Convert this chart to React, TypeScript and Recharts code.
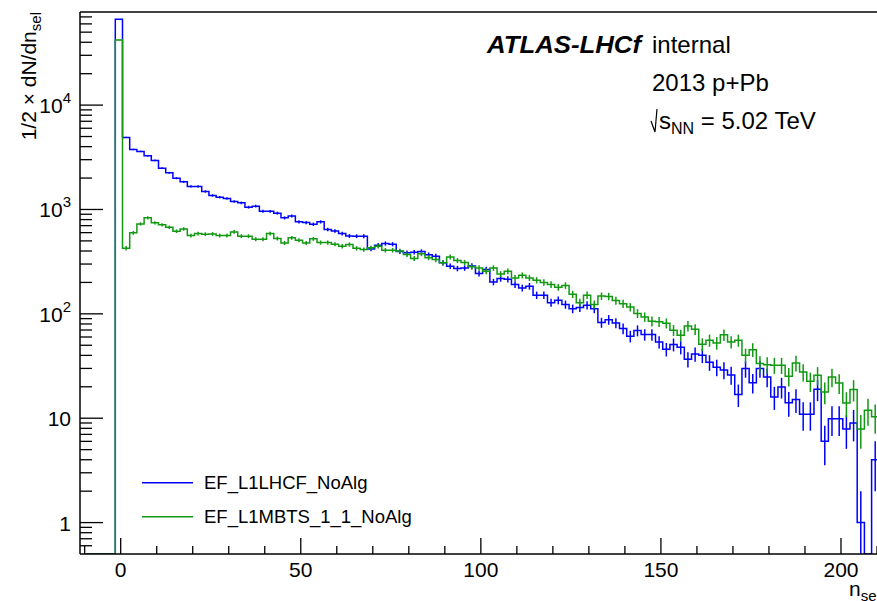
import React from 'react';
import { ComposedChart, Line, Scatter, ErrorBar, XAxis, YAxis, ReferenceLine } from 'recharts';

// bins of width 2, first low edge at -9.5 (last high edge 210.5)
const binWidth = 2;
const firstEdge = -9.5;

const lhcfName = 'EF_L1LHCF_NoAlg';
const lhcfCounts = [
  0, 0, 0, 0, 66400,
  4900, 3760, 3600, 3265, 2950, 2490, 2244, 1995, 1840, 1662,
  1662, 1488, 1362, 1312, 1275, 1193, 1157, 1052, 1076, 963,
  960, 922, 831, 868, 761, 750, 722, 761, 643, 623,
  589, 558, 555, 555, 419, 455, 472, 465, 395, 384,
  390, 395, 368, 357, 308, 286, 272, 275, 288, 243,
  266, 202, 218, 214, 191, 177, 184, 151, 151, 128,
  135, 123, 112, 115, 121, 112, 82.6, 88, 81.8, 72.3,
  61, 69.2, 63.3, 63.3, 53.8, 45.8, 50.8, 47.8, 36.7, 41.2,
  40.1, 34.3, 30.8, 29, 26, 16.9, 29.9, 21.9, 29.9, 24.8,
  16.0, 19.9, 14.1, 15.1, 10.9, 10.9, 18.9, 6.0, 9.9, 9.9,
  7.9, 9.0, 1.0, 0, 4.0,
];

const mbtsName = 'EF_L1MBTS_1_1_NoAlg';
const mbtsCounts = [
  0, 0, 0, 0, 42000,
  425, 597, 727, 831, 745, 712, 676, 619, 651, 563,
  589, 580, 583, 563, 563, 610, 555, 555, 519, 519,
  589, 527, 478, 535, 508, 478, 523, 482, 482, 465,
  445, 462, 425, 413, 429, 445, 407, 407, 400, 370,
  339, 376, 345, 331, 308, 351, 324, 310, 282, 275,
  256, 275, 241, 256, 221, 234, 221, 210, 200, 191,
  180, 187, 154, 128, 151, 123, 148, 147, 134, 125,
  116, 101, 93.5, 85, 84, 81.3, 69.7, 62.4, 76.5, 71.1,
  51.1, 55.8, 52.6, 63, 53.8, 55.8, 40.1, 45.4, 33.4, 32.6,
  32.2, 32.2, 25.2, 33.8, 27.7, 22.6, 25.8, 17.8, 24.8, 21.7,
  14.0, 18.8, 7.9, 11.9, 10.3,
];

const xMajorTicks = [0, 50, 100, 150, 200];
const xTicks = [-10, 0, 10, 20, 30, 40, 50, 60, 70, 80, 90, 100, 110, 120, 130, 140, 150, 160, 170, 180, 190, 200, 210];
const yDecades = [0.1, 1, 10, 100, 1000, 10000];

const X_DOMAIN: [number, number] = [-11.3, 210];
const Y_MIN = 0.5;
const Y_MAX = 78000;

const BLUE = '#0000ff';
const GREEN = '#119911';
const FONT = '"Liberation Sans", Arial, Helvetica, sans-serif';

const yTicks = yDecades
  .flatMap((d) => [1, 2, 3, 4, 5, 6, 7, 8, 9].map((m) => Number((m * d).toPrecision(3))))
  .filter((t) => t > Y_MIN && t < Y_MAX);

// step outline: one point per low edge plus the closing high edge
const toSteps = (counts: number[]) => {
  const pts = counts.map((c, i) => ({ x: firstEdge + i * binWidth, v: Math.max(c, Y_MIN) }));
  pts.push({ x: firstEdge + counts.length * binWidth, v: Math.max(counts[counts.length - 1], Y_MIN) });
  return pts;
};

// poisson errors at bin centres, lower end kept inside the log range
const toCentres = (counts: number[]) =>
  counts
    .map((c, i) => ({
      x: firstEdge + (i + 0.5) * binWidth,
      v: c,
      err: [c - Math.max(c - Math.sqrt(c), Y_MIN), Math.sqrt(c)],
    }))
    .filter((p) => p.v > 0);

const lhcfSteps = toSteps(lhcfCounts);
const mbtsSteps = toSteps(mbtsCounts);
const lhcfCentres = toCentres(lhcfCounts);
const mbtsCentres = toCentres(mbtsCounts);

const isDecade = (v: number) => Math.abs(Math.log10(v) - Math.round(Math.log10(v))) < 1e-6;

const XTick = (props: any) => {
  const { x, y, payload } = props;
  const major = xMajorTicks.includes(payload.value);
  return (
    <g>
      <line x1={x} x2={x} y1={y} y2={y - (major ? 16 : 8)} stroke="#000" strokeWidth={1.3} />
      {major && (
        <text x={x} y={y + 23} textAnchor="middle" fontSize={21} fontFamily={FONT} fill="#000">
          {payload.value}
        </text>
      )}
    </g>
  );
};

const YTick = (props: any) => {
  const { x, y, payload } = props;
  const v = payload.value;
  const major = isDecade(v);
  const exp = Math.round(Math.log10(v));
  return (
    <g>
      <line x1={x} x2={x + (major ? 23 : 12)} y1={y} y2={y} stroke="#000" strokeWidth={1.3} />
      {major && exp >= 0 && (
        <text x={x - 9} y={y + 8} textAnchor="end" fontSize={21} fontFamily={FONT} fill="#000">
          {exp <= 1 ? String(Math.round(v)) : '10'}
          {exp > 1 && (
            <tspan dy={-10} fontSize={15}>
              {exp}
            </tspan>
          )}
        </text>
      )}
    </g>
  );
};

const HistPlot = () => (
  <ComposedChart width={877} height={601} margin={{ top: 12, right: 0, left: 0, bottom: 0 }}>
    <XAxis
      type="number"
      dataKey="x"
      domain={X_DOMAIN}
      allowDataOverflow
      ticks={xTicks}
      interval={0}
      tick={XTick}
      tickLine={false}
      tickSize={0}
      tickMargin={0}
      height={47}
      axisLine={{ stroke: '#000', strokeWidth: 1.5 }}
    />
    <YAxis
      type="number"
      scale="log"
      domain={[Y_MIN, Y_MAX]}
      allowDataOverflow
      ticks={yTicks}
      interval={0}
      tick={YTick}
      tickLine={false}
      tickSize={0}
      tickMargin={0}
      width={80}
      axisLine={{ stroke: '#000', strokeWidth: 1.5 }}
    />
    {/* frame top */}
    <ReferenceLine y={Y_MAX} stroke="#000" strokeWidth={1.5} />
    <Line data={lhcfSteps} dataKey="v" name={lhcfName} type="stepAfter" stroke={BLUE} strokeWidth={1.5} dot={false} isAnimationActive={false} />
    <Scatter data={lhcfCentres} dataKey="v" legendType="none" shape={() => <g />} isAnimationActive={false}>
      <ErrorBar dataKey="err" direction="y" width={0} stroke={BLUE} strokeWidth={1.5} isAnimationActive={false} />
    </Scatter>
    <Line data={mbtsSteps} dataKey="v" name={mbtsName} type="stepAfter" stroke={GREEN} strokeWidth={1.5} dot={false} isAnimationActive={false} />
    <Scatter data={mbtsCentres} dataKey="v" legendType="none" shape={() => <g />} isAnimationActive={false}>
      <ErrorBar dataKey="err" direction="y" width={0} stroke={GREEN} strokeWidth={1.5} isAnimationActive={false} />
    </Scatter>
  </ComposedChart>
);

const Labels = () => (
  <svg width={877} height={601} style={{ position: 'absolute', left: 0, top: 0, pointerEvents: 'none' }} fontFamily={FONT}>
    {/* axis titles */}
    <text transform="translate(36,12) rotate(-90)" textAnchor="end" fontSize={21} fill="#000">
      1/2 × dN/dn
      <tspan dy={5} fontSize={15}>sel</tspan>
    </text>
    <text x={849} y={596} fontSize={21} fill="#000">
      n<tspan dy={5} fontSize={15}>sel</tspan>
    </text>

    {/* legend */}
    <line x1={142} x2={193} y1={482.7} y2={482.7} stroke={BLUE} strokeWidth={1.5} />
    <text x={204} y={489} fontSize={18.5} fill="#000">{lhcfName}</text>
    <line x1={142} x2={193} y1={516.7} y2={516.7} stroke={GREEN} strokeWidth={1.5} />
    <text x={204} y={523} fontSize={18.5} fill="#000">{mbtsName}</text>

    {/* annotation */}
    <text x={487} y={53} fontSize={23} fontWeight="bold" fontStyle="italic" fill="#000" textLength={154} lengthAdjust="spacingAndGlyphs">
      ATLAS-LHCf
    </text>
    <text x={652} y={53} fontSize={24} fill="#000">internal</text>
    <text x={652} y={91} fontSize={24} fill="#000">2013 p+Pb</text>
    <path d="M651,121 L655,132 L657,109" fill="none" stroke="#000" strokeWidth={1.2} />
    <text x={659} y={129} fontSize={24} fill="#000">
      s<tspan dy={5} fontSize={16}>NN</tspan>
      <tspan dy={-5}> = 5.02 TeV</tspan>
    </text>
  </svg>
);

export default function App() {
  return (
    <div style={{ position: 'absolute', left: 0, top: 0, width: 877, height: 601, background: '#fff' }}>
      <HistPlot />
      <Labels />
    </div>
  );
}
